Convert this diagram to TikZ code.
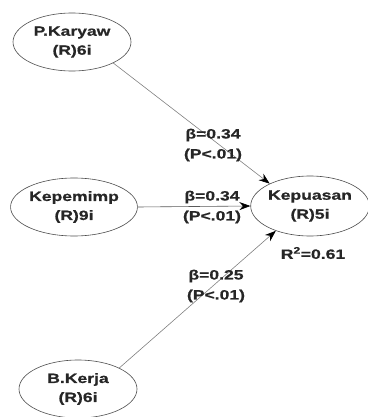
\documentclass[tikz,border=0pt]{standalone}
\usepackage{fontspec}
\setmainfont{Liberation Sans}
\newfontfamily\lblfont[FakeStretch=1.3,FakeBold=0.6]{Liberation Sans Bold}
\usetikzlibrary{arrows.meta,shapes.geometric}
\begin{document}
\begin{tikzpicture}[x=1pt,y=-1pt,
  latent/.style={ellipse,draw=black!70,line width=0.6pt,inner sep=0pt,
    minimum width=118pt,minimum height=58pt,align=center,
    font=\lblfont\fontsize{13.5}{19}\selectfont,text=black!85},
  lbl/.style={align=center,inner sep=0pt,
    font=\lblfont\fontsize{13.5}{20}\selectfont,text=black!85},
  path/.style={draw=black!50,line width=0.6pt,
    -{Stealth[length=11pt,width=8pt,color=black]}}]
\useasboundingbox (0,0) rectangle (367,417);
\node[latent] (pk) at (72,42) {P.Karyaw\\(R)6i};
\node[latent] (kp) at (74,207) {Kepemimp\\(R)9i};
\node[latent,minimum width=114pt,minimum height=60pt] (ku) at (310,206) {Kepuasan\\(R)5i};
\node[latent] (bk) at (78,389) {B.Kerja\\(R)6i};
\draw[path] (pk.-27) -- (ku.151);
\draw[path,draw=black!65] (kp.east) -- (ku.west);
\draw[path] (bk.27) -- (ku.-144);
\node[lbl] (l1) at (213,145) {β=0.34\\(P<.01)};
\node[lbl] (l2) at (212,207) {β=0.34\\(P<.01)};
\node[lbl] (l3) at (216,286) {β=0.25\\(P<.01)};
\node[lbl] (r2) at (313,253) {R\textsuperscript{2}=0.61};
\end{tikzpicture}
\end{document}
